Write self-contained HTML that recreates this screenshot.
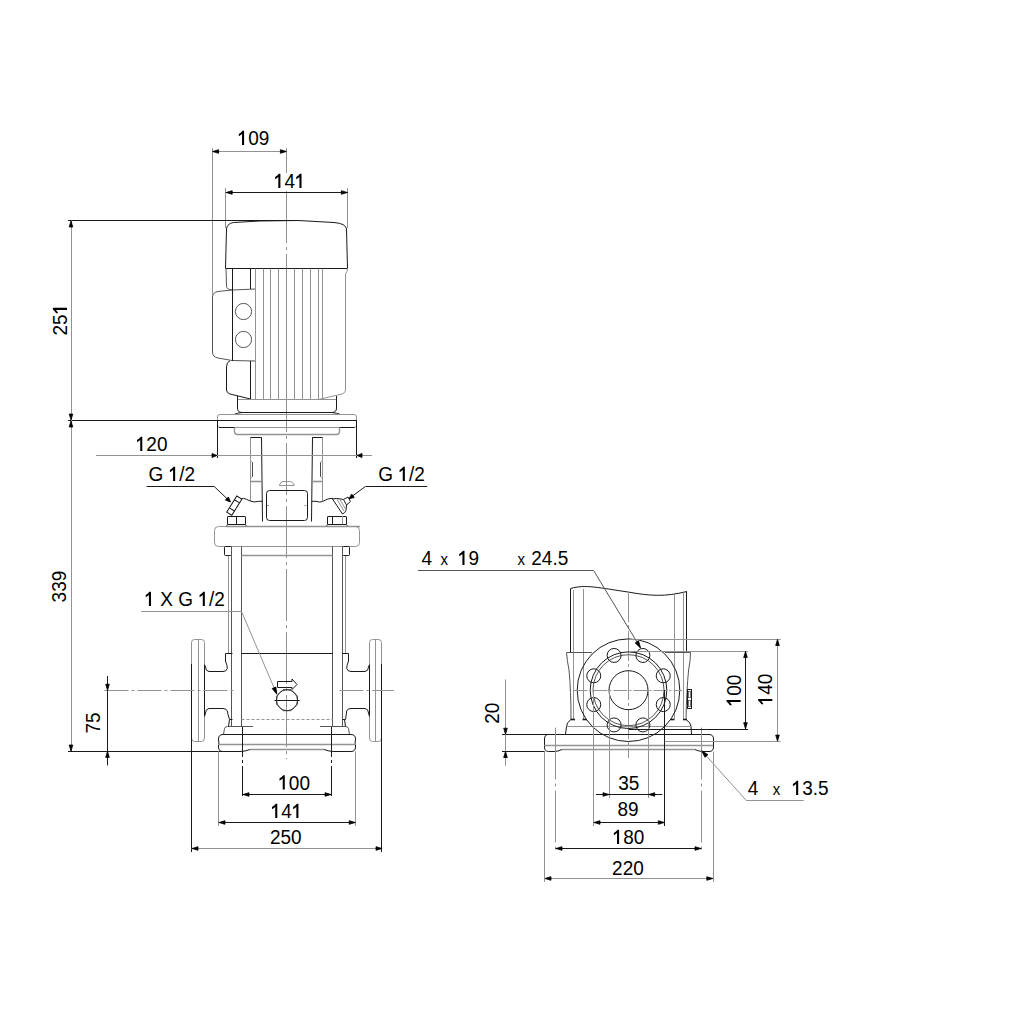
<!DOCTYPE html>
<html><head><meta charset="utf-8"><style>
html,body{margin:0;padding:0;background:#fff;}
svg{display:block;}
text{font-family:"Liberation Sans",sans-serif;font-size:19px;fill:#000;}
</style></head><body>
<svg width="1024" height="1024" viewBox="0 0 1024 1024">
<rect width="1024" height="1024" fill="#fff"/>
<g stroke-linecap="butt">
<line x1="286.5" y1="148" x2="286.5" y2="173" stroke="#939393" stroke-width="1" />
<line x1="286.5" y1="191" x2="286.5" y2="759" stroke="#939393" stroke-width="1" stroke-dasharray="52,4,3,4"/>
<path d="M225.5,268.5 L226.5,229 Q227,223.5 233.5,222.5 L260,221 L298,220.5 L334,222.5 Q346,223.5 346.5,229 L347.5,268.5 Z" stroke="#1a1a1a" stroke-width="1" fill="none" />
<path d="M347.5,268.5 Q347.5,272 345.5,274 L345.5,390 Q345.5,393 342,394 L318.5,399.5" stroke="#939393" stroke-width="1" fill="none" />
<path d="M226,268.5 L226.5,286 Q226.5,289.5 232,290" stroke="#555555" stroke-width="1" fill="none" />
<path d="M255.5,289 L232,290 L218,291.5 Q212.5,292.5 212.5,297 L212.5,352 Q212.5,357 218,358 L232,360.5 L255.5,361" stroke="#555555" stroke-width="1" fill="none" />
<line x1="232.5" y1="268.6" x2="232.5" y2="361" stroke="#1a1a1a" stroke-width="1" />
<line x1="250.5" y1="268.6" x2="250.5" y2="289" stroke="#1a1a1a" stroke-width="1" />
<line x1="255.5" y1="268.6" x2="255.5" y2="399" stroke="#939393" stroke-width="1" />
<circle cx="243.50" cy="311.50" r="8.1" stroke="#555555" stroke-width="1" fill="none"/>
<circle cx="243.50" cy="339.50" r="8.1" stroke="#555555" stroke-width="1" fill="none"/>
<path d="M230,360.8 Q226.5,362 226.5,367 L226.5,390 Q226.5,393 230,394 L250.5,399" stroke="#1a1a1a" stroke-width="1" fill="none" />
<line x1="250.5" y1="361" x2="250.5" y2="399" stroke="#1a1a1a" stroke-width="1" />
<line x1="263.5" y1="268.6" x2="263.5" y2="399" stroke="#939393" stroke-width="1" />
<line x1="270.5" y1="268.6" x2="270.5" y2="399" stroke="#939393" stroke-width="1" />
<line x1="278.5" y1="268.6" x2="278.5" y2="399" stroke="#939393" stroke-width="1" />
<line x1="286.5" y1="268.6" x2="286.5" y2="399" stroke="#939393" stroke-width="1" />
<line x1="294.5" y1="268.6" x2="294.5" y2="399" stroke="#939393" stroke-width="1" />
<line x1="302.5" y1="268.6" x2="302.5" y2="399" stroke="#939393" stroke-width="1" />
<line x1="310.5" y1="268.6" x2="310.5" y2="399" stroke="#939393" stroke-width="1" />
<line x1="318.5" y1="268.6" x2="318.5" y2="399" stroke="#939393" stroke-width="1" />
<line x1="322.5" y1="268.6" x2="322.5" y2="399" stroke="#939393" stroke-width="1" />
<line x1="237.7" y1="399.5" x2="336" y2="399.5" stroke="#939393" stroke-width="1" />
<path d="M237.5,396 L237.5,408 Q237.5,412.5 242,412.5 L332,412.5 Q336.5,412.5 336.5,408 L336.5,396" stroke="#1a1a1a" stroke-width="1" fill="none" />
<path d="M242,412.5 Q237,413 234,414.5 M332,412.5 Q337,413 340.5,414.5" stroke="#1a1a1a" stroke-width="1" fill="none" />
<rect x="217.5" y="414.5" width="139.0" height="13.0" rx="2.5" stroke="#939393" stroke-width="1" fill="none"/>
<line x1="68" y1="420.5" x2="356.2" y2="420.5" stroke="#1a1a1a" stroke-width="1" />
<line x1="219" y1="427.5" x2="234.5" y2="427.5" stroke="#1a1a1a" stroke-width="1" />
<line x1="339.5" y1="427.5" x2="354.5" y2="427.5" stroke="#1a1a1a" stroke-width="1" />
<path d="M234.5,427.5 L234.5,431.5 Q234.5,434.5 237.5,434.5 L336.5,434.5 Q339.5,434.5 339.5,431.5 L339.5,427.5" stroke="#939393" stroke-width="1.3" fill="none" />
<line x1="217.5" y1="420" x2="217.5" y2="458" stroke="#1a1a1a" stroke-width="1" />
<line x1="356.5" y1="420" x2="356.5" y2="458" stroke="#1a1a1a" stroke-width="1" />
<path d="M250.5,501 L250.5,437.5 L261.5,437.5" stroke="#939393" stroke-width="1" fill="none" />
<line x1="250.5" y1="437.5" x2="261.5" y2="437.5" stroke="#1a1a1a" stroke-width="1" />
<path d="M261.5,437.5 L262.5,521.5" stroke="#1a1a1a" stroke-width="1" fill="none" />
<path d="M322.5,501 L322.5,437.5 L312.5,437.5" stroke="#939393" stroke-width="1" fill="none" />
<line x1="312.5" y1="437.5" x2="322.5" y2="437.5" stroke="#1a1a1a" stroke-width="1" />
<path d="M312.5,437.5 L311.5,521.5" stroke="#1a1a1a" stroke-width="1" fill="none" />
<line x1="250.6" y1="481.5" x2="262" y2="481.5" stroke="#939393" stroke-width="1.6" />
<line x1="311.5" y1="481.5" x2="322.6" y2="481.5" stroke="#939393" stroke-width="1.6" />
<path d="M251.5,461.5 L252.5,462.5 L252.5,476.5 L251.5,477.5" stroke="#1a1a1a" stroke-width="0.8" fill="none" />
<path d="M321.5,461.5 L320.5,462.5 L320.5,476.5 L321.5,477.5" stroke="#1a1a1a" stroke-width="0.8" fill="none" />
<rect x="266.5" y="490.5" width="41.0" height="30.0" rx="3" stroke="#1a1a1a" stroke-width="1" fill="none"/>
<line x1="267" y1="505.5" x2="269" y2="505.5" stroke="#939393" stroke-width="1" />
<line x1="304.5" y1="505.5" x2="306.5" y2="505.5" stroke="#939393" stroke-width="1" />
<path d="M279.3,485.5 Q280.5,481.5 283,481.5 L290.5,481.5 Q293,481.5 294.3,485.5 Z" stroke="#939393" stroke-width="1" fill="none" />
<path d="M262.5,501.3 L258.6,501.3 Q254,502.8 250.3,501 Q246,499 243.4,498.3 L241,499" stroke="#1a1a1a" stroke-width="1" fill="none" />
<path d="M311.5,501.3 L316,501.3 Q320,502.8 322.6,501.5 Q328,498.5 330,498.5 L333,498.4" stroke="#1a1a1a" stroke-width="1" fill="none" />
<g transform="translate(234.3,505.6) rotate(-58)"><rect x="-9.5" y="-3" width="19" height="6" fill="none" stroke="#1a1a1a" stroke-width="1"/><line x1="-4.5" y1="-3" x2="-4.5" y2="3" stroke="#1a1a1a"/><line x1="5" y1="-3" x2="5" y2="3" stroke="#1a1a1a"/></g>
<path d="M332.5,499 Q336,497.5 343.5,499.5 L346.5,505 L346,510.5 Q345,513 342.5,514 Z" stroke="#1a1a1a" stroke-width="1" fill="none" />
<path d="M343.5,499.5 L348,497 L350.5,501.5 L346.5,505" stroke="#1a1a1a" stroke-width="1" fill="none" />
<path d="M336.5,498.5 L344,511 M339.5,498.8 L345.5,509" stroke="#939393" stroke-width="1" fill="none" />
<rect x="227.5" y="516.5" width="18.0" height="8.0" rx="0.5" stroke="#1a1a1a" stroke-width="1" fill="none"/>
<path d="M226.0,527 L227.5,524.5 M247.0,527 L245.5,524.5" stroke="#1a1a1a" stroke-width="1" fill="none" />
<line x1="236.5" y1="516" x2="236.5" y2="524.4" stroke="#1a1a1a" stroke-width="1" />
<rect x="327.5" y="516.5" width="19.0" height="8.0" rx="0.5" stroke="#1a1a1a" stroke-width="1" fill="none"/>
<path d="M326.0,527 L327.5,524.5 M348.0,527 L346.5,524.5" stroke="#1a1a1a" stroke-width="1" fill="none" />
<line x1="332.5" y1="516" x2="332.5" y2="524.4" stroke="#1a1a1a" stroke-width="1" />
<line x1="342.5" y1="516" x2="342.5" y2="524.4" stroke="#939393" stroke-width="1" />
<line x1="225.5" y1="526.5" x2="360" y2="526.5" stroke="#939393" stroke-width="1.4" />
<rect x="214.5" y="526.5" width="145.0" height="20.0" rx="4" stroke="#939393" stroke-width="1" fill="none"/>
<rect x="224.5" y="546.5" width="7.0" height="9.0" rx="1" stroke="#1a1a1a" stroke-width="1" fill="none"/>
<rect x="342.5" y="546.5" width="7.0" height="9.0" rx="1" stroke="#1a1a1a" stroke-width="1" fill="none"/>
<line x1="228.5" y1="555.7" x2="228.5" y2="653.4" stroke="#939393" stroke-width="1" />
<line x1="231.5" y1="546.5" x2="231.5" y2="726.6" stroke="#555555" stroke-width="1" />
<line x1="342.5" y1="546.5" x2="342.5" y2="726.6" stroke="#555555" stroke-width="1" />
<line x1="345.5" y1="555.7" x2="345.5" y2="653.4" stroke="#939393" stroke-width="1" />
<line x1="241.5" y1="546.5" x2="241.5" y2="726.6" stroke="#555555" stroke-width="1" />
<line x1="332.5" y1="546.5" x2="332.5" y2="726.6" stroke="#555555" stroke-width="1" />
<line x1="241.5" y1="555.5" x2="332.6" y2="555.5" stroke="#939393" stroke-width="1.6" />
<line x1="241.5" y1="653.5" x2="332.6" y2="653.5" stroke="#1a1a1a" stroke-width="1" />
<path d="M232.5,653.5 L225.5,653.5 L225.5,661 Q227.5,666 227.3,668.5 Q226.5,671.5 223,671.5 L209,671.5 Q205.5,671 205.5,667 L204.5,664.5" stroke="#1a1a1a" stroke-width="1" fill="none" />
<path d="M232.5,719.5 L229.5,719.5 Q227.5,713 227.3,711 Q226.5,708.5 223,708.5 L209,708.5 Q205.5,709 205.5,713 L204.5,716.5" stroke="#1a1a1a" stroke-width="1" fill="none" />
<path d="M342.5,653.5 L348.5,653.5 L348.5,661 Q346.5,666 346.7,668.5 Q347.5,671.5 351,671.5 L365,671.5 Q368.5,671 368.5,667 L369.5,664.5" stroke="#1a1a1a" stroke-width="1" fill="none" />
<path d="M342.5,719.5 L345.5,719.5 Q346.5,713 346.7,711 Q347.5,708.5 351,708.5 L365,708.5 Q368.5,709 368.5,713 L369.5,716.5" stroke="#1a1a1a" stroke-width="1" fill="none" />
<path d="M191.5,738 L191.5,642.5 Q191.5,639.5 194.5,639.5 L201.5,639.5 Q204.5,639.5 204.5,642.5 L204.5,738 Q204.5,741.5 201.5,741.5 L194.5,741.5 Q191.5,741.5 191.5,738" stroke="#939393" stroke-width="1" fill="none" />
<line x1="198.5" y1="639.5" x2="198.5" y2="741.5" stroke="#939393" stroke-width="1" />
<path d="M369.5,738 L369.5,642.5 Q369.5,639.5 372.5,639.5 L378.5,639.5 Q381.5,639.5 381.5,642.5 L381.5,738 Q381.5,741.5 378.5,741.5 L372.5,741.5 Q369.5,741.5 369.5,738" stroke="#939393" stroke-width="1" fill="none" />
<line x1="375.5" y1="639.5" x2="375.5" y2="741.5" stroke="#939393" stroke-width="1" />
<line x1="191.5" y1="664" x2="191.5" y2="852" stroke="#1a1a1a" stroke-width="1" />
<line x1="381.5" y1="664" x2="381.5" y2="852" stroke="#1a1a1a" stroke-width="1" />
<line x1="204.5" y1="664.5" x2="204.5" y2="716.5" stroke="#1a1a1a" stroke-width="1" />
<line x1="369.5" y1="664.5" x2="369.5" y2="716.5" stroke="#1a1a1a" stroke-width="1" />
<line x1="104.4" y1="690.5" x2="234.5" y2="690.5" stroke="#939393" stroke-width="1" stroke-dasharray="24,3,3,3"/>
<line x1="339.4" y1="690.5" x2="394" y2="690.5" stroke="#939393" stroke-width="1" stroke-dasharray="24,3,3,3"/>
<g transform="translate(287,700.2)"><path d="M-4,-10.5 L4,-10.5 L10.5,-4 L10.5,4 L4,10.5 L-4,10.5 L-10.5,4 L-10.5,-4 Z" fill="none" stroke="#555" stroke-width="1"/><circle r="10.5" fill="none" stroke="#333" stroke-width="1"/></g>
<line x1="274.4" y1="700.5" x2="299.7" y2="700.5" stroke="#1a1a1a" stroke-width="1" />
<path d="M277.5,681.5 L292,681.5 L292,679 L297,684.5 L292,689.5 L292,687.5 L277.5,687.5 Z" stroke="#1a1a1a" stroke-width="1" fill="none" />
<line x1="241.5" y1="719.5" x2="332.6" y2="719.5" stroke="#939393" stroke-width="1" stroke-dasharray="3,2"/>
<path d="M223.5,734.5 L224.5,728.5 Q225,726.5 227.5,726.5 L253,726.5" stroke="#555555" stroke-width="1" fill="none" />
<path d="M349.5,734.5 L348.5,728.5 Q348,726.5 345.5,726.5 L320,726.5" stroke="#555555" stroke-width="1" fill="none" />
<path d="M229.5,719.5 L228.5,726.5 M344.5,719.5 L345.5,726.5" stroke="#1a1a1a" stroke-width="1" fill="none" />
<path d="M219,745 L218.5,739 Q218.5,734.5 223,734.5 L351,734.5 Q355.5,734.5 355.5,739 L355,745" stroke="#1a1a1a" stroke-width="1" fill="none" />
<path d="M218.5,745 L218.5,747 Q218.5,751.5 223,751.5 L240,751.5 Q245,751.5 250,749.5 M355.5,745 L355.5,747 Q355.5,751.5 351,751.5 L334,751.5 Q329,751.5 324,749.5" stroke="#1a1a1a" stroke-width="1" fill="none" />
<line x1="250" y1="749.5" x2="324" y2="749.5" stroke="#939393" stroke-width="1.3" />
<line x1="218.7" y1="744.5" x2="355.1" y2="744.5" stroke="#939393" stroke-width="1.5" />
<line x1="212.5" y1="148" x2="212.5" y2="295" stroke="#939393" stroke-width="1" />
<line x1="212.2" y1="151.5" x2="286.9" y2="151.5" stroke="#939393" stroke-width="1" />
<path d="M212.6,151.5 L218.6,149.7 L218.6,153.3 Z" fill="#000" stroke="#000" stroke-width="0.8" stroke-linejoin="round"/>
<path d="M286.4,151.5 L280.4,149.7 L280.4,153.3 Z" fill="#000" stroke="#000" stroke-width="0.8" stroke-linejoin="round"/>
<line x1="225.5" y1="188" x2="225.5" y2="228" stroke="#939393" stroke-width="1" />
<line x1="347.5" y1="188" x2="347.5" y2="228" stroke="#939393" stroke-width="1" />
<line x1="225.8" y1="192.5" x2="347.7" y2="192.5" stroke="#1a1a1a" stroke-width="1" />
<path d="M226.2,192.5 L232.2,190.7 L232.2,194.3 Z" fill="#000" stroke="#000" stroke-width="0.8" stroke-linejoin="round"/>
<path d="M347.3,192.5 L341.3,190.7 L341.3,194.3 Z" fill="#000" stroke="#000" stroke-width="0.8" stroke-linejoin="round"/>
<line x1="68" y1="220.5" x2="298" y2="220.5" stroke="#1a1a1a" stroke-width="1" />
<line x1="71.5" y1="220.6" x2="71.5" y2="751.4" stroke="#939393" stroke-width="1" />
<path d="M71,221 L69.2,227 L72.8,227 Z" fill="#000" stroke="#000" stroke-width="0.8" stroke-linejoin="round"/>
<path d="M71,420 L69.2,414 L72.8,414 Z" fill="#000" stroke="#000" stroke-width="0.8" stroke-linejoin="round"/>
<path d="M71,421 L69.2,427 L72.8,427 Z" fill="#000" stroke="#000" stroke-width="0.8" stroke-linejoin="round"/>
<path d="M71,751 L69.2,745 L72.8,745 Z" fill="#000" stroke="#000" stroke-width="0.8" stroke-linejoin="round"/>
<line x1="104.4" y1="690.5" x2="120" y2="690.5" stroke="#939393" stroke-width="1" />
<line x1="68" y1="751.5" x2="224" y2="751.5" stroke="#1a1a1a" stroke-width="1" />
<line x1="107.5" y1="676" x2="107.5" y2="765.4" stroke="#1a1a1a" stroke-width="1" />
<path d="M107.5,690.2 L105.7,684.2 L109.3,684.2 Z" fill="#000" stroke="#000" stroke-width="0.8" stroke-linejoin="round"/>
<path d="M107.5,751.4 L105.7,757.4 L109.3,757.4 Z" fill="#000" stroke="#000" stroke-width="0.8" stroke-linejoin="round"/>
<line x1="96" y1="455.5" x2="372" y2="455.5" stroke="#939393" stroke-width="1" />
<path d="M217,455.5 L212,453.5 L212,457.5 Z" fill="#000" stroke="#000" stroke-width="0.8" stroke-linejoin="round"/>
<path d="M357,455.5 L362,453.5 L362,457.5 Z" fill="#000" stroke="#000" stroke-width="0.8" stroke-linejoin="round"/>
<path d="M146.6,486.5 L214.2,486.5 L229.8,501.25" stroke="#1a1a1a" stroke-width="1" fill="none" />
<path d="M230.50,502.00 L225.37,500.12 L228.43,496.95 Z" fill="#000" stroke="#000" stroke-width="0.8" stroke-linejoin="round"/>
<path d="M427.2,486.5 L365.4,486.5 L349.9,497.9" stroke="#1a1a1a" stroke-width="1" fill="none" />
<path d="M349.00,498.80 L351.62,494.01 L354.31,497.50 Z" fill="#000" stroke="#000" stroke-width="0.8" stroke-linejoin="round"/>
<path d="M141.2,611.5 L241.5,611.5 L276.6,693.7" stroke="#939393" stroke-width="1" fill="none" />
<path d="M276.80,694.20 L272.21,688.55 L275.89,686.98 Z" fill="#000" stroke="#000" stroke-width="0.8" stroke-linejoin="round"/>
<line x1="242.5" y1="727" x2="242.5" y2="798" stroke="#1a1a1a" stroke-width="1" stroke-dasharray="30,3,3,3"/>
<line x1="331.5" y1="727" x2="331.5" y2="798" stroke="#1a1a1a" stroke-width="1" stroke-dasharray="30,3,3,3"/>
<line x1="218.5" y1="751.4" x2="218.5" y2="826" stroke="#939393" stroke-width="1" />
<line x1="355.5" y1="751.4" x2="355.5" y2="826" stroke="#939393" stroke-width="1" />
<line x1="242.5" y1="794.5" x2="331.5" y2="794.5" stroke="#1a1a1a" stroke-width="1" />
<path d="M243,794.5 L249,792.7 L249,796.3 Z" fill="#000" stroke="#000" stroke-width="0.8" stroke-linejoin="round"/>
<path d="M331,794.5 L325,792.7 L325,796.3 Z" fill="#000" stroke="#000" stroke-width="0.8" stroke-linejoin="round"/>
<line x1="218.7" y1="822.5" x2="355.5" y2="822.5" stroke="#1a1a1a" stroke-width="1" />
<path d="M219,822.5 L225,820.7 L225,824.3 Z" fill="#000" stroke="#000" stroke-width="0.8" stroke-linejoin="round"/>
<path d="M355.2,822.5 L349.2,820.7 L349.2,824.3 Z" fill="#000" stroke="#000" stroke-width="0.8" stroke-linejoin="round"/>
<line x1="191.7" y1="848.5" x2="382.2" y2="848.5" stroke="#939393" stroke-width="1" />
<path d="M192,848.5 L198,846.7 L198,850.3 Z" fill="#000" stroke="#000" stroke-width="0.8" stroke-linejoin="round"/>
<path d="M382,848.5 L376,846.7 L376,850.3 Z" fill="#000" stroke="#000" stroke-width="0.8" stroke-linejoin="round"/>
<path d="M570.5,588.6 C585,584 600,588 628,592 C650,596 665,597 686.8,591.5" stroke="#1a1a1a" stroke-width="1" fill="none" />
<line x1="570.5" y1="588.6" x2="570.5" y2="652.7" stroke="#1a1a1a" stroke-width="1" />
<line x1="573.5" y1="590" x2="573.5" y2="719" stroke="#939393" stroke-width="1" />
<line x1="583.5" y1="589" x2="583.5" y2="719" stroke="#939393" stroke-width="1" />
<line x1="674.5" y1="594.5" x2="674.5" y2="719" stroke="#939393" stroke-width="1" />
<line x1="683.5" y1="592.5" x2="683.5" y2="719" stroke="#939393" stroke-width="1" />
<line x1="686.5" y1="591.5" x2="686.5" y2="652.7" stroke="#1a1a1a" stroke-width="1" />
<line x1="628.5" y1="592" x2="628.5" y2="758" stroke="#939393" stroke-width="1" stroke-dasharray="30,3,3,3"/>
<path d="M592,652.5 L566.5,652.5 Q567,660 569,670 Q571,690 571,719.5" stroke="#555555" stroke-width="1" fill="none" />
<path d="M665,652.5 L690.5,652.5 Q690.6,660 688.6,670 Q686.6,690 686,719.5" stroke="#555555" stroke-width="1" fill="none" />
<path d="M571,719.5 L570,720.5 Q567,722 566.5,726.5 L565.5,734.2 M686,719.5 L687,720.5 Q690.5,722 691,726.5 L691.5,734.2" stroke="#1a1a1a" stroke-width="1" fill="none" />
<line x1="570.5" y1="719.5" x2="575" y2="719.5" stroke="#1a1a1a" stroke-width="1.6" />
<line x1="582.5" y1="719.5" x2="587" y2="719.5" stroke="#1a1a1a" stroke-width="1.6" />
<line x1="670.5" y1="719.5" x2="674.5" y2="719.5" stroke="#1a1a1a" stroke-width="1.6" />
<line x1="683" y1="719.5" x2="687" y2="719.5" stroke="#1a1a1a" stroke-width="1.6" />
<line x1="566.8" y1="726.5" x2="691.2" y2="726.5" stroke="#939393" stroke-width="1" />
<circle cx="628.50" cy="690.20" r="51.3" stroke="#1a1a1a" stroke-width="1" fill="none"/>
<circle cx="628.50" cy="690.20" r="38.3" stroke="#1a1a1a" stroke-width="1" fill="none"/>
<circle cx="628.50" cy="690.20" r="35.5" stroke="#555555" stroke-width="1" fill="none"/>
<circle cx="628.50" cy="690.20" r="19.5" stroke="#1a1a1a" stroke-width="1" fill="none"/>
<circle cx="642.89" cy="655.46" r="7" stroke="#1a1a1a" stroke-width="1" fill="none"/>
<circle cx="663.24" cy="675.81" r="7" stroke="#1a1a1a" stroke-width="1" fill="none"/>
<circle cx="663.24" cy="704.59" r="7" stroke="#1a1a1a" stroke-width="1" fill="none"/>
<circle cx="642.89" cy="724.94" r="7" stroke="#1a1a1a" stroke-width="1" fill="none"/>
<circle cx="614.11" cy="724.94" r="7" stroke="#1a1a1a" stroke-width="1" fill="none"/>
<circle cx="593.76" cy="704.59" r="7" stroke="#1a1a1a" stroke-width="1" fill="none"/>
<circle cx="593.76" cy="675.81" r="7" stroke="#1a1a1a" stroke-width="1" fill="none"/>
<circle cx="614.11" cy="655.46" r="7" stroke="#1a1a1a" stroke-width="1" fill="none"/>
<line x1="573.4" y1="690.5" x2="682" y2="690.5" stroke="#939393" stroke-width="1" stroke-dasharray="14,2,2,2"/>
<rect x="687.5" y="689.5" width="4" height="19" fill="none" stroke="#1a1a1a"/><rect x="688.5" y="691.5" width="2" height="6" fill="none" stroke="#555" stroke-width="0.8"/><rect x="688.5" y="700.5" width="2" height="6" fill="none" stroke="#555" stroke-width="0.8"/>
<path d="M544.5,745 L544.5,739 Q544.5,734.5 548.5,734.5 L709,734.5 Q713.5,734.5 713.5,739 L713.5,745" stroke="#1a1a1a" stroke-width="1" fill="none" />
<path d="M544.5,745 L544.5,747 Q544.5,751.5 548.5,751.5 L554,751.5 Q558,751.5 562,749.5 M713.5,745 L713.5,747 Q713.5,751.5 709,751.5 L703,751.5 Q699,751.5 695,749.5" stroke="#1a1a1a" stroke-width="1" fill="none" />
<line x1="562" y1="749.5" x2="695" y2="749.5" stroke="#939393" stroke-width="1.3" />
<line x1="544.3" y1="745.5" x2="713.2" y2="745.5" stroke="#939393" stroke-width="1.5" />
<line x1="502" y1="734.5" x2="602" y2="734.5" stroke="#1a1a1a" stroke-width="1" />
<line x1="502" y1="751.5" x2="545" y2="751.5" stroke="#1a1a1a" stroke-width="1" />
<line x1="505.5" y1="679.4" x2="505.5" y2="765.7" stroke="#939393" stroke-width="1" />
<path d="M505.5,734.2 L503.7,728.2 L507.3,728.2 Z" fill="#000" stroke="#000" stroke-width="0.8" stroke-linejoin="round"/>
<path d="M505.5,751.5 L503.7,757.5 L507.3,757.5 Z" fill="#000" stroke="#000" stroke-width="0.8" stroke-linejoin="round"/>
<line x1="544.5" y1="751.5" x2="544.5" y2="882" stroke="#939393" stroke-width="1" />
<line x1="713.5" y1="751.5" x2="713.5" y2="882" stroke="#939393" stroke-width="1" />
<line x1="555.5" y1="727.6" x2="555.5" y2="852" stroke="#939393" stroke-width="1" stroke-dasharray="52,4,3,4"/>
<line x1="701.5" y1="727.6" x2="701.5" y2="852" stroke="#939393" stroke-width="1" stroke-dasharray="52,4,3,4"/>
<line x1="593.5" y1="690" x2="593.5" y2="826" stroke="#939393" stroke-width="1" />
<line x1="664.5" y1="690" x2="664.5" y2="826" stroke="#1a1a1a" stroke-width="1" />
<line x1="609.5" y1="690" x2="609.5" y2="798" stroke="#939393" stroke-width="1" />
<line x1="648.5" y1="690" x2="648.5" y2="798" stroke="#939393" stroke-width="1" />
<line x1="596" y1="794.5" x2="662.3" y2="794.5" stroke="#1a1a1a" stroke-width="1" />
<path d="M609,794.5 L603,792.7 L603,796.3 Z" fill="#000" stroke="#000" stroke-width="0.8" stroke-linejoin="round"/>
<path d="M648.7,794.5 L654.7,792.7 L654.7,796.3 Z" fill="#000" stroke="#000" stroke-width="0.8" stroke-linejoin="round"/>
<line x1="593.7" y1="822.5" x2="664.7" y2="822.5" stroke="#1a1a1a" stroke-width="1" />
<path d="M594,822.5 L600,820.7 L600,824.3 Z" fill="#000" stroke="#000" stroke-width="0.8" stroke-linejoin="round"/>
<path d="M664.3,822.5 L658.3,820.7 L658.3,824.3 Z" fill="#000" stroke="#000" stroke-width="0.8" stroke-linejoin="round"/>
<line x1="555.5" y1="848.5" x2="701.5" y2="848.5" stroke="#1a1a1a" stroke-width="1" />
<path d="M556,848.5 L562,846.7 L562,850.3 Z" fill="#000" stroke="#000" stroke-width="0.8" stroke-linejoin="round"/>
<path d="M701,848.5 L695,846.7 L695,850.3 Z" fill="#000" stroke="#000" stroke-width="0.8" stroke-linejoin="round"/>
<line x1="544.4" y1="878.5" x2="713.2" y2="878.5" stroke="#939393" stroke-width="1" />
<path d="M545,878.5 L551,876.7 L551,880.3 Z" fill="#000" stroke="#000" stroke-width="0.8" stroke-linejoin="round"/>
<path d="M712.8,878.5 L706.8,876.7 L706.8,880.3 Z" fill="#000" stroke="#000" stroke-width="0.8" stroke-linejoin="round"/>
<line x1="628.6" y1="651.5" x2="748.1" y2="651.5" stroke="#939393" stroke-width="1" />
<line x1="628.6" y1="729.5" x2="748.1" y2="729.5" stroke="#1a1a1a" stroke-width="1" />
<line x1="745.5" y1="651.2" x2="745.5" y2="729.1" stroke="#1a1a1a" stroke-width="1" />
<path d="M745.5,651.6 L743.7,657.6 L747.3,657.6 Z" fill="#000" stroke="#000" stroke-width="0.8" stroke-linejoin="round"/>
<path d="M745.5,728.7 L743.7,722.7 L747.3,722.7 Z" fill="#000" stroke="#000" stroke-width="0.8" stroke-linejoin="round"/>
<line x1="628.6" y1="639.5" x2="780.6" y2="639.5" stroke="#939393" stroke-width="1" />
<line x1="664.7" y1="741.5" x2="780.6" y2="741.5" stroke="#939393" stroke-width="1" />
<line x1="777.5" y1="639.1" x2="777.5" y2="741.5" stroke="#939393" stroke-width="1" />
<path d="M777.5,639.5 L775.7,645.5 L779.3,645.5 Z" fill="#000" stroke="#000" stroke-width="0.8" stroke-linejoin="round"/>
<path d="M777.5,741.1 L775.7,735.1 L779.3,735.1 Z" fill="#000" stroke="#000" stroke-width="0.8" stroke-linejoin="round"/>
<path d="M418,570.5 L593.6,570.5 L640.5,647.9" stroke="#555555" stroke-width="1" fill="none" />
<path d="M640.50,647.90 L635.17,642.94 L638.59,640.87 Z" fill="#000" stroke="#000" stroke-width="0.8" stroke-linejoin="round"/>
<path d="M803.8,800.5 L746.3,800.5 L701.75,750.8" stroke="#939393" stroke-width="1" fill="none" />
<path d="M701.75,750.80 L707.92,754.67 L704.94,757.34 Z" fill="#000" stroke="#000" stroke-width="0.8" stroke-linejoin="round"/>
</g>
<g>
<g transform="translate(237.6,145) scale(1,1.08)"><path transform="translate(0.00,0) scale(19)" d="M0.342,0 L0.232,0 L0.232,-0.54 Q0.15,-0.47 0.063,-0.43 L0.063,-0.53 Q0.19,-0.59 0.262,-0.69 L0.342,-0.69 Z" fill="#000"/><text x="10.56" y="0" xml:space="preserve">09</text></g>
<g transform="translate(273.9,188) scale(1,1.08)"><path transform="translate(0.00,0) scale(19)" d="M0.342,0 L0.232,0 L0.232,-0.54 Q0.15,-0.47 0.063,-0.43 L0.063,-0.53 Q0.19,-0.59 0.262,-0.69 L0.342,-0.69 Z" fill="#000"/><text x="10.56" y="0" xml:space="preserve">4</text><path transform="translate(21.13,0) scale(19)" d="M0.342,0 L0.232,0 L0.232,-0.54 Q0.15,-0.47 0.063,-0.43 L0.063,-0.53 Q0.19,-0.59 0.262,-0.69 L0.342,-0.69 Z" fill="#000"/></g>
<g transform="translate(135.8,451) scale(1,1.08)"><path transform="translate(0.00,0) scale(19)" d="M0.342,0 L0.232,0 L0.232,-0.54 Q0.15,-0.47 0.063,-0.43 L0.063,-0.53 Q0.19,-0.59 0.262,-0.69 L0.342,-0.69 Z" fill="#000"/><text x="10.56" y="0" xml:space="preserve">20</text></g>
<g transform="translate(148.6,481) scale(1,1.08)"><text x="0.00" y="0" xml:space="preserve">G </text><path transform="translate(20.06,0) scale(19)" d="M0.342,0 L0.232,0 L0.232,-0.54 Q0.15,-0.47 0.063,-0.43 L0.063,-0.53 Q0.19,-0.59 0.262,-0.69 L0.342,-0.69 Z" fill="#000"/><text x="30.63" y="0" xml:space="preserve">/2</text></g>
<g transform="translate(378.3,481) scale(1,1.08)"><text x="0.00" y="0" xml:space="preserve">G </text><path transform="translate(20.06,0) scale(19)" d="M0.342,0 L0.232,0 L0.232,-0.54 Q0.15,-0.47 0.063,-0.43 L0.063,-0.53 Q0.19,-0.59 0.262,-0.69 L0.342,-0.69 Z" fill="#000"/><text x="30.63" y="0" xml:space="preserve">/2</text></g>
<g transform="translate(144.5,606) scale(1,1.08)"><path transform="translate(0.00,0) scale(19)" d="M0.342,0 L0.232,0 L0.232,-0.54 Q0.15,-0.47 0.063,-0.43 L0.063,-0.53 Q0.19,-0.59 0.262,-0.69 L0.342,-0.69 Z" fill="#000"/><text x="10.56" y="0" xml:space="preserve"> X G </text><path transform="translate(53.86,0) scale(19)" d="M0.342,0 L0.232,0 L0.232,-0.54 Q0.15,-0.47 0.063,-0.43 L0.063,-0.53 Q0.19,-0.59 0.262,-0.69 L0.342,-0.69 Z" fill="#000"/><text x="64.43" y="0" xml:space="preserve">/2</text></g>
<g transform="translate(278.3,789.5) scale(1,1.08)"><path transform="translate(0.00,0) scale(19)" d="M0.342,0 L0.232,0 L0.232,-0.54 Q0.15,-0.47 0.063,-0.43 L0.063,-0.53 Q0.19,-0.59 0.262,-0.69 L0.342,-0.69 Z" fill="#000"/><text x="10.56" y="0" xml:space="preserve">00</text></g>
<g transform="translate(270.8,818) scale(1,1.08)"><path transform="translate(0.00,0) scale(19)" d="M0.342,0 L0.232,0 L0.232,-0.54 Q0.15,-0.47 0.063,-0.43 L0.063,-0.53 Q0.19,-0.59 0.262,-0.69 L0.342,-0.69 Z" fill="#000"/><text x="10.56" y="0" xml:space="preserve">4</text><path transform="translate(21.13,0) scale(19)" d="M0.342,0 L0.232,0 L0.232,-0.54 Q0.15,-0.47 0.063,-0.43 L0.063,-0.53 Q0.19,-0.59 0.262,-0.69 L0.342,-0.69 Z" fill="#000"/></g>
<g transform="translate(269.9,844) scale(1,1.08)"><text x="0.00" y="0" xml:space="preserve">250</text></g>
<g transform="translate(618.3,790) scale(1,1.08)"><text x="0.00" y="0" xml:space="preserve">35</text></g>
<g transform="translate(617.4,816) scale(1,1.08)"><text x="0.00" y="0" xml:space="preserve">89</text></g>
<g transform="translate(612.6,844) scale(1,1.08)"><path transform="translate(0.00,0) scale(19)" d="M0.342,0 L0.232,0 L0.232,-0.54 Q0.15,-0.47 0.063,-0.43 L0.063,-0.53 Q0.19,-0.59 0.262,-0.69 L0.342,-0.69 Z" fill="#000"/><text x="10.56" y="0" xml:space="preserve">80</text></g>
<g transform="translate(612.1,874.5) scale(1,1.08)"><text x="0.00" y="0" xml:space="preserve">220</text></g>
<g transform="translate(421.5,565) scale(1,1.08)"><text x="0.00" y="0" xml:space="preserve">4</text></g>
<g transform="translate(458,565) scale(1,1.08)"><path transform="translate(0.00,0) scale(19)" d="M0.342,0 L0.232,0 L0.232,-0.54 Q0.15,-0.47 0.063,-0.43 L0.063,-0.53 Q0.19,-0.59 0.262,-0.69 L0.342,-0.69 Z" fill="#000"/><text x="10.56" y="0" xml:space="preserve">9</text></g>
<g transform="translate(531.3,565) scale(1,1.08)"><text x="0.00" y="0" xml:space="preserve">24.5</text></g>
<g transform="translate(747.7,795) scale(1,1.08)"><text x="0.00" y="0" xml:space="preserve">4</text></g>
<g transform="translate(791.7,795) scale(1,1.08)"><path transform="translate(0.00,0) scale(19)" d="M0.342,0 L0.232,0 L0.232,-0.54 Q0.15,-0.47 0.063,-0.43 L0.063,-0.53 Q0.19,-0.59 0.262,-0.69 L0.342,-0.69 Z" fill="#000"/><text x="10.56" y="0" xml:space="preserve">3.5</text></g>
<g transform="translate(440.5,565) scale(1,1.12)"><text x="0" y="0" style="font-size:15px">x</text></g>
<g transform="translate(517.5,565) scale(1,1.12)"><text x="0" y="0" style="font-size:15px">x</text></g>
<g transform="translate(772.7,795) scale(1,1.12)"><text x="0" y="0" style="font-size:15px">x</text></g>
<g transform="translate(67,335.5) rotate(-90) scale(1,1.08)"><text x="0.00" y="0" xml:space="preserve">25</text><path transform="translate(21.13,0) scale(19)" d="M0.342,0 L0.232,0 L0.232,-0.54 Q0.15,-0.47 0.063,-0.43 L0.063,-0.53 Q0.19,-0.59 0.262,-0.69 L0.342,-0.69 Z" fill="#000"/></g>
<g transform="translate(66.2,602.4) rotate(-90) scale(1,1.08)"><text x="0.00" y="0" xml:space="preserve">339</text></g>
<g transform="translate(99.8,733.6) rotate(-90) scale(1,1.08)"><text x="0.00" y="0" xml:space="preserve">75</text></g>
<g transform="translate(498.7,723.8) rotate(-90) scale(1,1.08)"><text x="0.00" y="0" xml:space="preserve">20</text></g>
<g transform="translate(740.7,706.4) rotate(-90) scale(1,1.08)"><path transform="translate(0.00,0) scale(19)" d="M0.342,0 L0.232,0 L0.232,-0.54 Q0.15,-0.47 0.063,-0.43 L0.063,-0.53 Q0.19,-0.59 0.262,-0.69 L0.342,-0.69 Z" fill="#000"/><text x="10.56" y="0" xml:space="preserve">00</text></g>
<g transform="translate(772.3,705.4) rotate(-90) scale(1,1.08)"><path transform="translate(0.00,0) scale(19)" d="M0.342,0 L0.232,0 L0.232,-0.54 Q0.15,-0.47 0.063,-0.43 L0.063,-0.53 Q0.19,-0.59 0.262,-0.69 L0.342,-0.69 Z" fill="#000"/><text x="10.56" y="0" xml:space="preserve">40</text></g>
</g>
</svg></body></html>
